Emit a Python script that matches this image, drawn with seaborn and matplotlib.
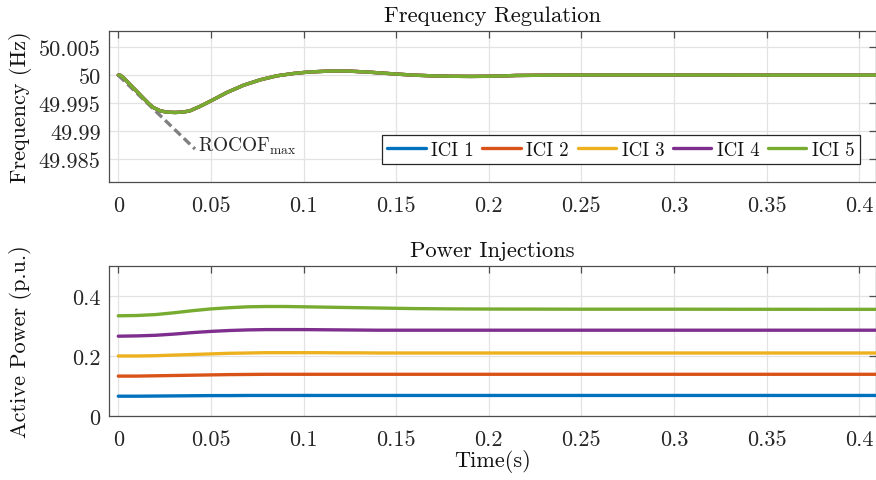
import numpy as np
import pandas as pd
import matplotlib
matplotlib.use("Agg")
import matplotlib.pyplot as plt
from matplotlib.ticker import FuncFormatter
from matplotlib.lines import Line2D
import seaborn as sns

# ---------------- data ----------------
series = ["ICI 1", "ICI 2", "ICI 3", "ICI 4", "ICI 5"]
colors = ["#0072BD", "#D95319", "#EDB120", "#7E2F8E", "#77AC30"]

t_freq = [0, 0.001, 0.003, 0.0064, 0.01, 0.0135, 0.0165, 0.019, 0.0225, 0.026,
          0.0306, 0.035, 0.0387, 0.044, 0.05, 0.0586, 0.0676, 0.0765, 0.0855,
          0.0945, 0.1, 0.106, 0.1125, 0.118, 0.125, 0.135, 0.15, 0.16, 0.17,
          0.18, 0.19, 0.2, 0.215, 0.233, 0.26, 0.3, 0.35, 0.41]
freq = [50.0, 50.0, 49.9995, 49.9983, 49.9971, 49.9959, 49.9949, 49.9942,
        49.99365, 49.9934, 49.99333, 49.9934, 49.99363, 49.9944, 49.9954,
        49.9969, 49.9982, 49.99916, 49.99988, 50.0003, 50.00048, 50.00062,
        50.00071, 50.00075, 50.00072, 50.00055, 50.0002, 50.0, 49.99988,
        49.9998, 49.99978, 49.9998, 49.99995, 50.0, 50.00003, 50.00003, 50.0,
        50.0]

rocof_t = [0.0, 0.0414]
rocof_f = [50.0, 49.9868]

t_pow = [0, 0.01, 0.02, 0.03, 0.04, 0.05, 0.06, 0.07, 0.08, 0.09, 0.10, 0.11,
         0.12, 0.13, 0.14, 0.16, 0.18, 0.2, 0.25, 0.3, 0.35, 0.41]
p_ici1 = [0.066, 0.066, 0.0665, 0.067, 0.0675, 0.068, 0.068, 0.0685, 0.0685,
          0.0685, 0.0685, 0.0685, 0.0685, 0.0685, 0.0685, 0.0685, 0.0685,
          0.0685, 0.0685, 0.0685, 0.0685, 0.0685]
p_ici2 = [0.133, 0.133, 0.134, 0.135, 0.136, 0.137, 0.138, 0.1385, 0.139, 0.139,
          0.139, 0.139, 0.139, 0.139, 0.139, 0.139, 0.139, 0.139, 0.139, 0.139,
          0.139, 0.139]
p_ici3 = [0.200, 0.200, 0.201, 0.203, 0.205, 0.207, 0.209, 0.210, 0.211, 0.211,
          0.211, 0.211, 0.2105, 0.2105, 0.210, 0.210, 0.210, 0.210, 0.210, 0.210,
          0.210, 0.210]
p_ici4 = [0.266, 0.267, 0.269, 0.273, 0.278, 0.282, 0.285, 0.287, 0.288, 0.288,
          0.288, 0.2875, 0.287, 0.2865, 0.286, 0.286, 0.286, 0.286, 0.286, 0.286,
          0.286, 0.286]
p_ici5 = [0.334, 0.335, 0.338, 0.344, 0.351, 0.357, 0.361, 0.364, 0.365, 0.365,
          0.364, 0.363, 0.362, 0.361, 0.360, 0.358, 0.357, 0.3565, 0.356, 0.356,
          0.3557, 0.3555]
powers = [p_ici1, p_ici2, p_ici3, p_ici4, p_ici5]

x_ticks = [0, 0.05, 0.1, 0.15, 0.2, 0.25, 0.3, 0.35, 0.4]
f_ticks = [49.985, 49.99, 49.995, 50.0, 50.005]
p_ticks = [0, 0.2, 0.4]

# ---------------- style ----------------
sns.set_theme(style="whitegrid")
plt.rcParams.update({
    "font.family": ["serif"],
    "font.serif": ["cmr10", "DejaVu Serif"],
    "mathtext.fontset": "cm",
    "axes.unicode_minus": False,
    "axes.formatter.use_mathtext": True,
    "axes.edgecolor": "#4d4d4d",
    "axes.linewidth": 0.9,
    "grid.color": "#e3e3e3",
    "grid.linewidth": 0.9,
    "xtick.direction": "in",
    "ytick.direction": "in",
    "xtick.top": True,
    "ytick.right": True,
    "xtick.color": "#4d4d4d",
    "ytick.color": "#4d4d4d",
    "xtick.labelcolor": "#262626",
    "ytick.labelcolor": "#262626",
    "xtick.major.size": 5,
    "ytick.major.size": 5,
    "xtick.major.width": 0.9,
    "ytick.major.width": 0.9,
    "text.color": "#111111",
    "axes.labelcolor": "#111111",
})

W, H = 876, 481
fig = plt.figure(figsize=(W / 100, H / 100), dpi=100)
ax1 = fig.add_axes([109 / W, 1 - 183 / H, 1 - 109 / W, 151 / H])
ax2 = fig.add_axes([109 / W, 1 - 417 / H, 1 - 109 / W, 150 / H])

fs = 16.0
lw = 2.4
fmt = FuncFormatter(lambda v, p: f"{v:g}")

# frequency panel
df_f = pd.DataFrame({
    "t": np.tile(t_freq, len(series)),
    "f": np.tile(freq, len(series)),
    "ICI": np.repeat(series, len(t_freq)),
})
ax1.plot(rocof_t, rocof_f, color="#808080", linewidth=lw, linestyle=(0, (2.6, 1.3)),
         zorder=2)
sns.lineplot(data=df_f, x="t", y="f", hue="ICI", hue_order=series,
             palette=colors, linewidth=lw, legend=False, ax=ax1, zorder=3)
ax1.text(0.043, 49.98649, r"ROCOF$_{\mathrm{max}}$", fontsize=13.9,
         ha="left", va="baseline", color="#262626")

ax1.set_xlim(-0.005, 0.409)
ax1.set_ylim(49.9809, 50.0079)
ax1.set_xticks(x_ticks)
ax1.set_yticks(f_ticks)
ax1.xaxis.set_major_formatter(fmt)
ax1.yaxis.set_major_formatter(fmt)
ax1.tick_params(axis="x", labelsize=fs, pad=10)
ax1.tick_params(axis="y", labelsize=fs, pad=6)
ax1.set_xlabel("")
ax1.set_ylabel("Frequency (Hz)", fontsize=fs)
ax1.yaxis.set_label_coords(-0.1, 0.5)
ax1.set_title("Frequency Regulation", fontsize=16.3, pad=7)

handles = [Line2D([0], [0], color=c, linewidth=lw) for c in colors]
leg = ax1.legend(handles, series, ncol=5, fontsize=13.5, frameon=True,
                 fancybox=False, framealpha=1, edgecolor="#262626",
                 loc="upper right", bbox_to_anchor=(860 / W, 1 - 136 / H),
                 bbox_transform=fig.transFigure, handlelength=2.05,
                 handletextpad=0.3, columnspacing=0.45, borderpad=0.3,
                 borderaxespad=0)
leg.get_frame().set_linewidth(0.9)

# power panel
df_p = pd.DataFrame({
    "t": np.tile(t_pow, len(series)),
    "p": np.concatenate(powers),
    "ICI": np.repeat(series, len(t_pow)),
})
sns.lineplot(data=df_p, x="t", y="p", hue="ICI", hue_order=series,
             palette=colors, linewidth=lw, legend=False, ax=ax2, zorder=3)
ax2.set_xlim(-0.005, 0.409)
ax2.set_ylim(0, 0.5)
ax2.set_xticks(x_ticks)
ax2.set_yticks(p_ticks)
ax2.xaxis.set_major_formatter(fmt)
ax2.yaxis.set_major_formatter(fmt)
ax2.tick_params(axis="x", labelsize=fs, pad=10)
ax2.tick_params(axis="y", labelsize=fs, pad=6)
ax2.set_xlabel("Time(s)", fontsize=fs, labelpad=0)
ax2.set_ylabel("Active Power (p.u.)", fontsize=fs)
ax2.yaxis.set_label_coords(-0.1, 0.5)
ax2.set_title("Power Injections", fontsize=16.3, pad=7)

for ax in (ax1, ax2):
    for s in ax.spines.values():
        s.set_visible(True)
        s.set_color("#4d4d4d")
    ax.grid(True)

fig.savefig("out.png", dpi=100)
